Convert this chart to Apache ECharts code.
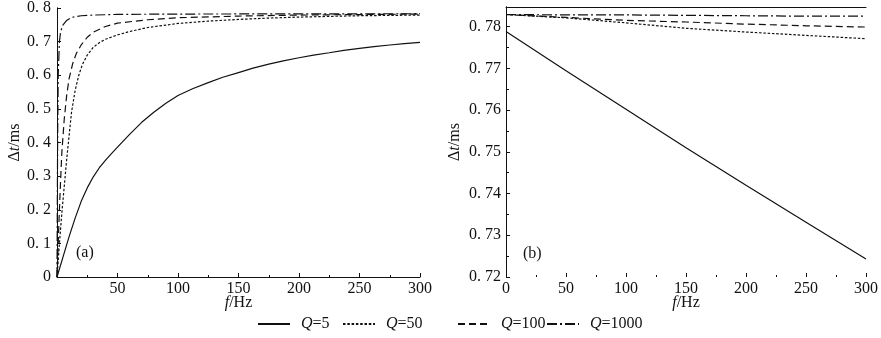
<!DOCTYPE html>
<html><head><meta charset="utf-8">
<script src="https://cdn.jsdelivr.net/npm/echarts@6/dist/echarts.min.js"></script>
<style>html,body{margin:0;padding:0;background:#fff}#c{width:881px;height:338px}</style>
</head><body><div id="c"></div>
<script>
// ---- data ----
const seriesNames = ['Q=5', 'Q=50', 'Q=100', 'Q=1000'];
// panel (a): f in Hz, Δt in ms
const aF5 = [0, 5, 10, 15, 20, 25, 30, 35, 40, 45, 50, 60, 70, 80, 90, 100, 112, 125, 137, 150, 162, 175, 187, 200, 212, 225, 237, 250, 262, 275, 287, 300];
const aQ5 = [0, 0.06, 0.12, 0.175, 0.225, 0.265, 0.298, 0.325, 0.347, 0.367, 0.386, 0.424, 0.46, 0.49, 0.517, 0.540, 0.56, 0.578, 0.594, 0.608, 0.621, 0.633, 0.643, 0.652, 0.66, 0.667, 0.674, 0.680, 0.685, 0.690, 0.694, 0.698];
const aF50 = [0, 1, 2, 4, 6, 8, 10, 12, 15, 18, 21, 25, 30, 35, 40, 50, 60, 75, 100, 125, 150, 175, 200, 250, 300];
const aQ50 = [0, 0.05, 0.10, 0.19, 0.27, 0.35, 0.42, 0.49, 0.555, 0.60, 0.632, 0.66, 0.683, 0.697, 0.707, 0.72, 0.73, 0.742, 0.754, 0.761, 0.766, 0.770, 0.773, 0.777, 0.779];
const aF100 = [0, 1, 2, 3, 4, 6, 8, 10, 13, 16, 20, 25, 30, 40, 50, 75, 100, 150, 200, 300];
const aQ100 = [0, 0.10, 0.20, 0.29, 0.37, 0.47, 0.54, 0.59, 0.635, 0.665, 0.69, 0.713, 0.728, 0.745, 0.755, 0.765, 0.771, 0.776, 0.779, 0.782];
const aF1000 = [0, 0.25, 0.5, 1, 2, 3, 5, 8, 12, 20, 30, 50, 100, 300];
const aQ1000 = [0, 0.2, 0.4, 0.6, 0.70, 0.73, 0.75, 0.763, 0.772, 0.777, 0.779, 0.781, 0.782, 0.783];
// panel (b)
const bF = [0, 50, 100, 150, 200, 250, 300];
const bQ5 = [0.7788, 0.7694, 0.7602, 0.7510, 0.7420, 0.7331, 0.7243];
const bQ50 = [0.7829, 0.7821, 0.7809, 0.7796, 0.7787, 0.7779, 0.7771];
const bQ100 = [0.7829, 0.7822, 0.7815, 0.7811, 0.7806, 0.7802, 0.7799];
const bQ1000 = [0.7829, 0.7828, 0.7828, 0.7827, 0.7826, 0.7825, 0.7825];

// ---- styling ----
const FONT = '"Liberation Serif", "Times New Roman", serif';
const BLACK = '#111';
const dashTypes = ['solid', [2.5, 1.8], [7, 4], [10, 3, 2, 3]];
const pair = (xs, ys) => xs.map((x, i) => [x, ys[i]]);

function line(name, idx, xi, yi, xs, ys) {
  return {
    name, type: 'line', xAxisIndex: xi, yAxisIndex: yi,
    data: pair(xs, ys), showSymbol: false, symbol: 'none',
    smooth: false, animation: false,
    lineStyle: { color: BLACK, width: 1.2, type: dashTypes[idx] },
    itemStyle: { color: BLACK }
  };
}

const yLabelFmt = d => v => (Math.abs(v) < 1e-9 ? '0' : v.toFixed(d).replace('.', '. '));

function xAxisMain(grid, showMin) {
  return {
    type: 'value', gridIndex: grid, min: 0, max: 300, interval: 50,
    position: 'bottom',
    name: '{i|f}{n|/Hz}', nameLocation: 'middle', nameGap: 18, nameMoveOverlap: false,
    nameTextStyle: { rich: { i: { fontFamily: FONT, fontSize: 16, fontStyle: 'italic', color: BLACK }, n: { fontFamily: FONT, fontSize: 16, color: BLACK } } },
    axisLine: { show: false },
    axisTick: { show: true, inside: true, length: 4, lineStyle: { color: BLACK } },
    minorTick: { show: true, splitNumber: 2, length: 2, lineStyle: { color: BLACK } },
    axisLabel: { fontFamily: FONT, fontSize: 16, color: BLACK, margin: 4, showMinLabel: showMin },
    splitLine: { show: false }
  };
}
function xAxisTop(grid) {
  return {
    type: 'value', gridIndex: grid, min: 0, max: 300, position: 'top',
    axisLine: { show: true, lineStyle: { color: BLACK, width: 1 } },
    axisTick: { show: false }, axisLabel: { show: false }, splitLine: { show: false }
  };
}
function yAxisRight(grid, min, max) {
  return {
    type: 'value', gridIndex: grid, min, max, position: 'right',
    axisLine: { show: true, lineStyle: { color: BLACK, width: 1 } },
    axisTick: { show: false }, axisLabel: { show: false }, splitLine: { show: false }
  };
}
const yName = '{a|Δ}{i|t}{a|/ms}';
const yNameStyle = { rich: { a: { fontFamily: FONT, fontSize: 16, color: BLACK }, i: { fontFamily: FONT, fontSize: 16, fontStyle: 'italic', color: BLACK } } };

const legendItem = (name, left) => ({
  data: [name], left, top: 311, itemWidth: 32, itemHeight: 12,
  selectedMode: false,
  itemStyle: { opacity: 0 },
  formatter: n => '{q|Q}{t|' + n.slice(1) + '}',
  textStyle: { rich: {
    q: { fontFamily: FONT, fontSize: 16, fontStyle: 'italic', color: BLACK, padding: [0, 0, 0, 6] },
    t: { fontFamily: FONT, fontSize: 16, color: BLACK }
  } }
});

const chart = echarts.init(document.getElementById('c'), null, { renderer: 'canvas' });
chart.setOption({
  animation: false,
  backgroundColor: '#fff',
  grid: [
    { left: 57, right: 461, top: 7, bottom: 61 },
    { left: 506, right: 13, top: 7, bottom: 61 }
  ],
  xAxis: [xAxisMain(0, false), xAxisMain(1, true), xAxisTop(0), xAxisTop(1)],
  yAxis: [
    {
      type: 'value', gridIndex: 0, min: 0, max: 0.8, interval: 0.1, position: 'left',
      name: yName, nameLocation: 'middle', nameGap: 31, nameRotate: 90, nameTextStyle: yNameStyle,
      axisLine: { show: true, lineStyle: { color: BLACK, width: 1 } },
      axisTick: { show: true, inside: true, length: 4, lineStyle: { color: BLACK } },
      axisLabel: { fontFamily: FONT, fontSize: 16, color: BLACK, margin: 6, formatter: yLabelFmt(1) },
      splitLine: { show: false }
    },
    {
      type: 'value', gridIndex: 1, min: 0.72, max: 0.7847, interval: 0.01, position: 'left',
      name: yName, nameLocation: 'middle', nameGap: 43, nameRotate: 90, nameTextStyle: yNameStyle,
      axisLine: { show: true, lineStyle: { color: BLACK, width: 1 } },
      axisTick: { show: true, inside: true, length: 4, lineStyle: { color: BLACK } },
      minorTick: { show: true, splitNumber: 2, length: 3, lineStyle: { color: BLACK } },
      axisLabel: { fontFamily: FONT, fontSize: 16, color: BLACK, margin: 5, showMaxLabel: false, formatter: yLabelFmt(2) },
      splitLine: { show: false }
    },
    yAxisRight(0, 0, 0.8),
    yAxisRight(1, 0.72, 0.7847)
  ],
  legend: [
    legendItem(seriesNames[0], 252),
    legendItem(seriesNames[1], 337),
    legendItem(seriesNames[2], 452),
    legendItem(seriesNames[3], 541)
  ],
  graphic: [
    { type: 'text', left: 76, top: 245, style: { text: '(a)', font: '16px ' + FONT, fill: BLACK } },
    { type: 'text', left: 523, top: 246, style: { text: '(b)', font: '16px ' + FONT, fill: BLACK } }
  ],
  series: [
    line(seriesNames[0], 0, 0, 0, aF5, aQ5),
    line(seriesNames[1], 1, 0, 0, aF50, aQ50),
    line(seriesNames[2], 2, 0, 0, aF100, aQ100),
    line(seriesNames[3], 3, 0, 0, aF1000, aQ1000),
    line(seriesNames[0], 0, 1, 1, bF, bQ5),
    line(seriesNames[1], 1, 1, 1, bF, bQ50),
    line(seriesNames[2], 2, 1, 1, bF, bQ100),
    line(seriesNames[3], 3, 1, 1, bF, bQ1000)
  ]
});
</script></body></html>
